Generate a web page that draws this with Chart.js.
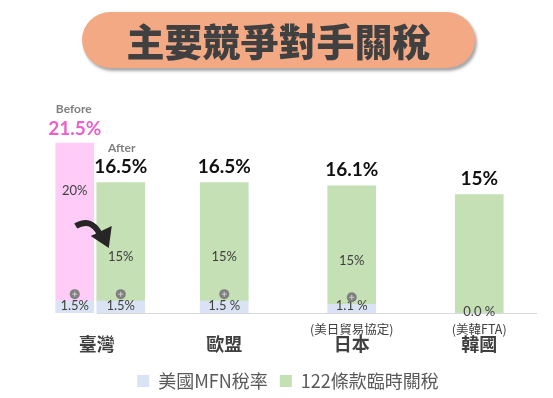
<!DOCTYPE html>
<html>
<head>
<meta charset="utf-8">
<script src="https://cdn.jsdelivr.net/npm/chart.js@4"></script>
<style>
  html, body { margin: 0; padding: 0; background: #ffffff; }
  #wrap { position: relative; width: 553px; height: 398px; }
  #chart { position: absolute; left: 0; top: 0; }
  #title {
    position: absolute; left: 82px; top: 12px; width: 393px; height: 56px;
    border-radius: 28px; background: #F3A984;
    box-shadow: 2px 3px 3px rgba(0,0,0,0.35);
    color: #404040; font-family: 'Noto Sans CJK TC', sans-serif; font-weight: 900;
    font-size: 38px; line-height: 56px; text-align: center; letter-spacing: 0px;
  }
</style>
</head>
<body>
<div id="wrap">
  <canvas id="chart" width="553" height="398"></canvas>
  <div id="title">主要競爭對手關稅</div>
</div>
<script>
// ---- data ----
const categories = ['臺灣', '歐盟', '日本', '韓國'];
const subLabels = ['', '', '(美日貿易協定)', '(美韓FTA)'];
const mfnBefore = [1.5, null, null, null];
const tariffBefore = [20, null, null, null];
const mfnAfter = [1.5, 1.5, 1.1, 0.0];
const tariff122 = [15, 15, 15, 15];
const mfnLabels = ['1.5%', '1.5 %', '1.1 %', '0.0 %'];
const tariffLabels = ['15%', '15%', '15%', ''];
const totalLabels = ['16.5%', '16.5%', '16.1%', '15%'];
const beforeInnerLabel = '20%';
const beforeTotalLabel = '21.5%';
const seriesNames = ['美國MFN稅率', '122條款臨時關稅'];

const CJK = "'Noto Sans CJK TC', 'Noto Sans', sans-serif";
const NUM = "Lato, 'Noto Sans', sans-serif";
const BLUE = '#DAE3F3', GREEN = '#C5E0B4', PINK = '#FFCCF8';

const labelPlugin = {
  id: 'customLabels',
  afterDatasetsDraw(chart) {
    const ctx = chart.ctx;
    const base = chart.scales.y.getPixelForValue(0);
    const m = [0, 1, 2, 3].map(i => chart.getDatasetMeta(i));
    ctx.save();
    // axis line
    const first = m[2].data[0];
    ctx.strokeStyle = '#D9D9D9';
    ctx.lineWidth = 1;
    ctx.beginPath();
    ctx.moveTo(first.x - first.width / 2, Math.round(base) + 0.5);
    ctx.lineTo(chart.chartArea.right - 6, Math.round(base) + 0.5);
    ctx.stroke();

    function plus(x, y) {
      ctx.fillStyle = '#7F7F7F';
      ctx.beginPath(); ctx.arc(x, y, 5, 0, Math.PI * 2); ctx.fill();
      ctx.strokeStyle = '#D0D0D0'; ctx.lineWidth = 1;
      ctx.beginPath(); ctx.moveTo(x - 2.5, y); ctx.lineTo(x + 2.5, y);
      ctx.moveTo(x, y - 2.5); ctx.lineTo(x, y + 2.5); ctx.stroke();
    }
    function text(s, x, y, font, color, baseline) {
      ctx.font = font; ctx.fillStyle = color; ctx.textAlign = 'center';
      ctx.textBaseline = baseline || 'middle';
      ctx.fillText(s, x, y);
    }

    categories.forEach((c, i) => {
      const blue = m[2].data[i], green = m[3].data[i];
      const x = green.x;
      // MFN label
      if (mfnAfter[i] > 0) {
        text(mfnLabels[i], x, base - 1, '13px ' + NUM, '#404040', 'bottom');
        plus(x, blue.y - 7);
      } else {
        text(mfnLabels[i], x, base + 5, '13px ' + NUM, '#404040', 'bottom');
      }
      // inner tariff label
      if (tariffLabels[i]) {
        const h = green.base - green.y;
        text(tariffLabels[i], x, green.y + h * 0.63, '13px ' + NUM, '#404040');
      }
      // total label
      text(totalLabels[i], x, green.y - 6, 'bold 19px ' + NUM, '#111111', 'bottom');
      // sub label
      if (subLabels[i]) {
        text(subLabels[i], chart.scales.x.getPixelForValue(i), base + 16, '12.5px ' + CJK, '#404040');
      }
    });

    // Taiwan "before" bar
    const bBlue = m[0].data[0], bPink = m[1].data[0];
    const bx = bPink.x;
    text(mfnLabels[0], bx, base - 1, '13px ' + NUM, '#404040', 'bottom');
    plus(bx, bBlue.y - 7);
    const ph = bPink.base - bPink.y;
    text(beforeInnerLabel, bx, bPink.y + ph * 0.3, '13px ' + NUM, '#404040');
    text(beforeTotalLabel, bx, bPink.y - 5, 'bold 19px ' + NUM, '#EE5FC9', 'bottom');
    text('Before', bx - 1, bPink.y - 28, 'bold 12px ' + NUM, '#7F7F7F', 'bottom');
    const aG = m[3].data[0];
    text('After', aG.x + 1, aG.y - 29, 'bold 12px ' + NUM, '#7F7F7F', 'bottom');

    // curved arrow from before bar to after bar
    const ax = bx + 1, ay = base - 88;
    const left = aG.x - aG.width / 2;
    ctx.fillStyle = '#262626';
    ctx.strokeStyle = '#262626';
    ctx.lineWidth = 6;
    ctx.lineCap = 'butt';
    ctx.beginPath();
    ctx.moveTo(ax, ay + 1);
    ctx.quadraticCurveTo(left - 6, ay - 8, left + 3, ay + 9);
    ctx.stroke();
    ctx.beginPath();
    ctx.moveTo(left - 6, ay + 11);
    ctx.lineTo(left + 15, ay + 1);
    ctx.lineTo(left + 12, ay + 23);
    ctx.closePath();
    ctx.fill();
    ctx.restore();
  }
};

const chart = new Chart(document.getElementById('chart'), {
  type: 'bar',
  data: {
    labels: categories,
    datasets: [
      { label: seriesNames[0], stack: 'before', data: mfnBefore, backgroundColor: BLUE, barThickness: 44, maxBarThickness: 38 },
      { label: 'Before', stack: 'before', data: tariffBefore, backgroundColor: PINK, barThickness: 44, maxBarThickness: 38 },
      { label: seriesNames[0], stack: 'after', data: mfnAfter, backgroundColor: BLUE, barThickness: 48 },
      { label: seriesNames[1], stack: 'after', data: tariff122, backgroundColor: GREEN, barThickness: 48 }
    ]
  },
  options: {
    responsive: false,
    devicePixelRatio: 1,
    animation: false,
    datasets: { bar: { skipNull: true, borderWidth: 0 } },
    layout: { padding: { top: 76, left: 33, right: 10, bottom: -2 } },
    scales: {
      x: {
        stacked: true,
        grid: { display: false, drawTicks: false },
        border: { display: false },
        ticks: { color: '#404040', font: { family: CJK, size: 18, weight: 'bold' }, padding: 20 },
        afterFit: (s) => { s.height = 47; }
      },
      y: { stacked: true, display: false, min: 0, max: 30 }
    },
    plugins: {
      legend: {
        position: 'bottom',
        labels: {
          filter: (item) => item.datasetIndex >= 2,
          boxWidth: 12, boxHeight: 12, padding: 12,
          color: '#595959',
          font: { family: CJK, size: 18 }
        }
      },
      tooltip: { enabled: false },
      title: { display: false }
    }
  },
  plugins: [labelPlugin]
});
</script>
</body>
</html>
